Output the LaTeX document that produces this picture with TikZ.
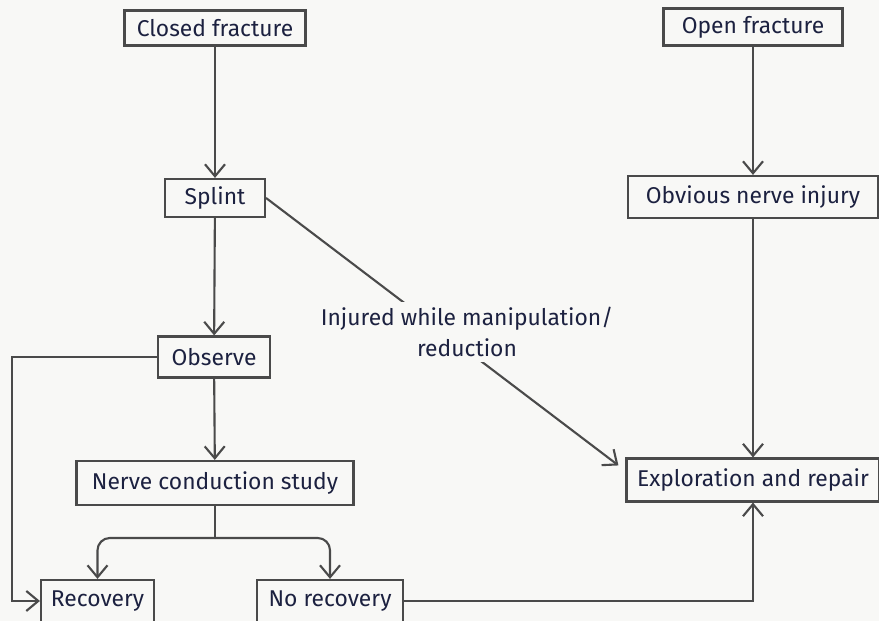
\documentclass[tikz,border=0pt]{standalone}
\usepackage{fontspec}
\setmainfont{Fira Sans}
\usetikzlibrary{arrows.meta}

\definecolor{ink}{HTML}{1C2140}
\definecolor{edge}{HTML}{4A4A4A}
\definecolor{paper}{HTML}{F8F8F6}

\begin{document}
\begin{tikzpicture}[>={Straight Barb[length=2.4mm,width=4mm]},
  box/.style={draw=edge,line width=1.2pt,fill=paper,text=ink,inner sep=0pt,font=\fontsize{13}{19}\selectfont},
  link/.style={draw=edge,line width=1.2pt}]
  \fill[paper] (0,0) rectangle (17.58,12.42);
  \useasboundingbox (0,0) rectangle (17.58,12.42);
  % left column
  \node[box,minimum width=3.62cm,minimum height=0.70cm] (closed) at (4.30,11.86) {Closed fracture};
  \node[box,minimum width=2.00cm,minimum height=0.76cm] (splint) at (4.30,8.46) {Splint};
  \node[box,minimum width=2.24cm,minimum height=0.82cm] (observe) at (4.28,5.28) {Observe};
  \node[box,minimum width=5.54cm,minimum height=0.88cm] (ncs) at (4.30,2.76) {Nerve conduction study};
  \node[box,minimum width=2.26cm,minimum height=0.84cm] (recovery) at (1.95,0.40) {Recovery};
  \node[box,minimum width=2.92cm,minimum height=0.84cm] (norecovery) at (6.60,0.40) {No recovery};
  % right column
  \node[box,minimum width=3.58cm,minimum height=0.74cm] (open) at (15.06,11.88) {Open fracture};
  \node[box,minimum width=5.00cm,minimum height=0.84cm] (obvious) at (15.06,8.48) {Obvious nerve injury};
  \node[box,minimum width=5.06cm,minimum height=0.86cm] (explore) at (15.06,2.82) {Exploration and repair};
  \coordinate (split) at (4.30,1.66);
  \coordinate (hit) at ([xshift=-0.14cm,yshift=-0.16cm]explore.north west);
  \draw[link,->] (closed) -- (splint);
  \draw[link,->] (splint) -- (observe);
  \draw[link,->] (observe) -- (ncs);
  \draw[link,->] (observe.west) -- ++(-2.90,0) |- (recovery.west);
  \draw[link] (ncs.south) -- (split);
  \draw[link,->,rounded corners=7pt] (split) -| (recovery.north);
  \draw[link,->,rounded corners=7pt] (split) -| (norecovery.north);
  \draw[link,->] (norecovery.east) -| (explore.south);
  \draw[link,->] (open) -- (obvious);
  \draw[link,->] (obvious) -- (explore);
  \draw[link,->] (splint.east) -- (hit);
  \node[fill=paper,text=ink,align=center,inner sep=3pt,font=\fontsize{13}{18}\selectfont] (manip) at (9.34,5.78) {Injured while manipulation/\\reduction};
\end{tikzpicture}
\end{document}
